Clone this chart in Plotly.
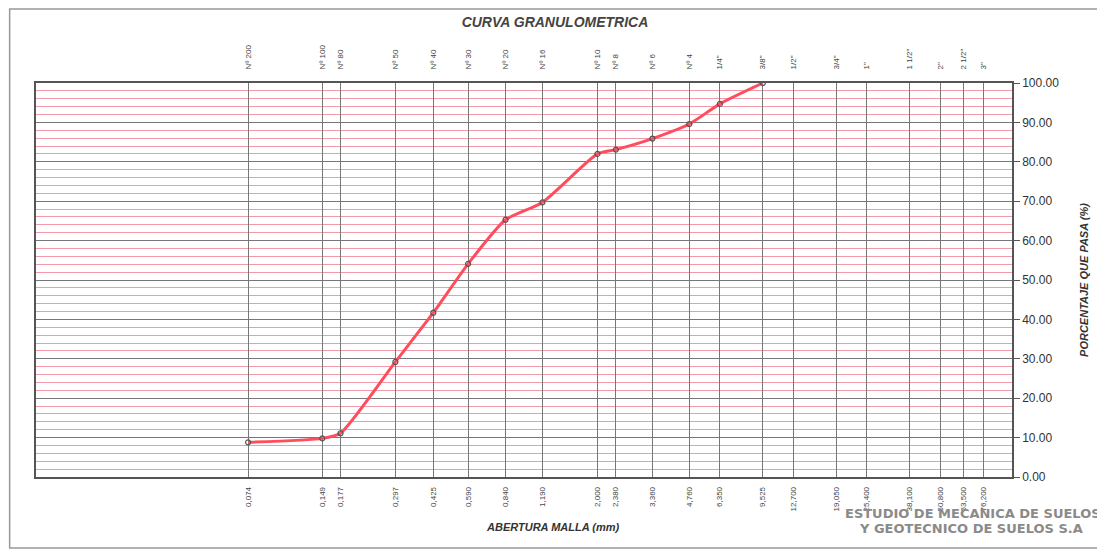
import plotly.graph_objects as go

# sieve data
sieves = ["Nº 200", "Nº 100", "Nº 80", "Nº 50", "Nº 40", "Nº 30", "Nº 20", "Nº 16",
          "Nº 10", "Nº 8", "Nº 6", "Nº 4", '1/4"', '3/8"', '1/2"', '3/4"', '1"',
          '1 1/2"', '2"', '2 1/2"', '3"']
openings = [0.074, 0.149, 0.177, 0.297, 0.425, 0.590, 0.840, 1.190, 2.000, 2.380,
            3.360, 4.760, 6.350, 9.525, 12.700, 19.050, 25.400, 38.100, 50.800,
            63.500, 76.200]
opening_labels = ["0,074", "0,149", "0,177", "0,297", "0,425", "0,590", "0,840",
                  "1,190", "2,000", "2,380", "3,360", "4,760", "6,350", "9,525",
                  "12,700", "19,050", "25,400", "38,100", "50,800", "63,500", "76,200"]

# percent passing (measured up to 3/8")
test_sizes = [0.074, 0.149, 0.177, 0.297, 0.425, 0.590, 0.840, 1.190, 2.000, 2.380,
              3.360, 4.760, 6.350, 9.525]
passing = [8.8, 9.8, 11.1, 29.2, 41.7, 54.1, 65.3, 69.7, 82.0, 83.1, 85.9, 89.6,
           94.7, 100.0]

font_main = "Liberation Sans, Arial, sans-serif"

fig = go.Figure()

fig.add_trace(go.Scatter(
    x=test_sizes, y=passing,
    mode="lines+markers",
    line=dict(color="#ff4d5e", width=3, shape="spline", smoothing=0.6),
    marker=dict(size=5, color="rgba(255,255,255,0)",
                line=dict(color="#555555", width=1.2)),
    hoverinfo="x+y",
    showlegend=False,
))

# dummy trace so the top axis renders
fig.add_trace(go.Scatter(
    x=openings, y=[None] * len(openings), xaxis="x2", yaxis="y",
    mode="markers", showlegend=False, hoverinfo="skip",
))

fig.update_layout(
    width=1105, height=550,
    margin=dict(l=28, r=101, t=75, b=81),
    paper_bgcolor="white",
    plot_bgcolor="white",
    font=dict(family=font_main, color="#333333", size=11),
    title=dict(text="<b><i>CURVA GRANULOMETRICA</i></b>", x=0.495, xanchor="center",
               y=0.975, yanchor="middle", yref="container",
               font=dict(size=14, color="#444444")),
    xaxis=dict(
        type="log", range=[-2, 2], automargin=False,
        tickmode="array", tickvals=openings, ticktext=opening_labels,
        tickangle=-90, tickfont=dict(size=8, color="#444444"),
        ticks="outside", ticklen=5, tickcolor="rgba(0,0,0,0)",
        showgrid=True, gridcolor="#777777", gridwidth=1,
        showline=True, linecolor="#555555", linewidth=1.5, mirror=True,
        zeroline=False,
    ),
    xaxis2=dict(
        type="log", range=[-2, 2], overlaying="x", side="top", automargin=False,
        tickmode="array", tickvals=openings, ticktext=sieves,
        tickangle=-90, tickfont=dict(size=8, color="#444444"),
        ticks="outside", ticklen=11, tickcolor="rgba(0,0,0,0)",
        showgrid=False, showline=False,
    ),
    yaxis=dict(
        range=[0, 100], side="right", automargin=False,
        tickmode="linear", tick0=0, dtick=10, tickformat=".2f",
        tickfont=dict(size=12, color="#333333"),
        ticks="outside", ticklen=6, tickcolor="#555555",
        showgrid=True, gridcolor="#777777", gridwidth=1,
        minor=dict(dtick=2, showgrid=True, gridcolor="#f29aaa", gridwidth=1, ticks=""),
        showline=True, linecolor="#555555", linewidth=1.5, mirror=True,
        zeroline=False,
        title=dict(text="<b><i>PORCENTAJE QUE PASA (%)</i></b>",
                   font=dict(size=11, color="#333333"), standoff=22),
    ),
)

fig.add_annotation(text="<b><i>ABERTURA MALLA (mm)</i></b>", xref="paper", yref="paper",
                   x=0.530, y=-0.147, showarrow=False,
                   font=dict(size=11, color="#333333"))

# stamp
fig.add_annotation(text="<b>ESTUDIO DE MECANICA DE SUELOS</b>", xref="paper", yref="paper",
                   x=0.827, y=-0.117, xanchor="left", showarrow=False,
                   font=dict(size=13, color="#8a8a8a", family="DejaVu Sans"))
fig.add_annotation(text="<b>Y GEOTECNICO DE SUELOS S.A</b>", xref="paper", yref="paper",
                   x=0.841, y=-0.155, xanchor="left", showarrow=False,
                   font=dict(size=13, color="#8a8a8a", family="DejaVu Sans"))

# page border
fig.add_shape(type="rect", xref="paper", yref="paper",
              x0=-0.027, x1=1.091, y0=-0.180, y1=1.188,
              line=dict(color="#999999", width=1.5), layer="below")

fig.write_html("out.html")
